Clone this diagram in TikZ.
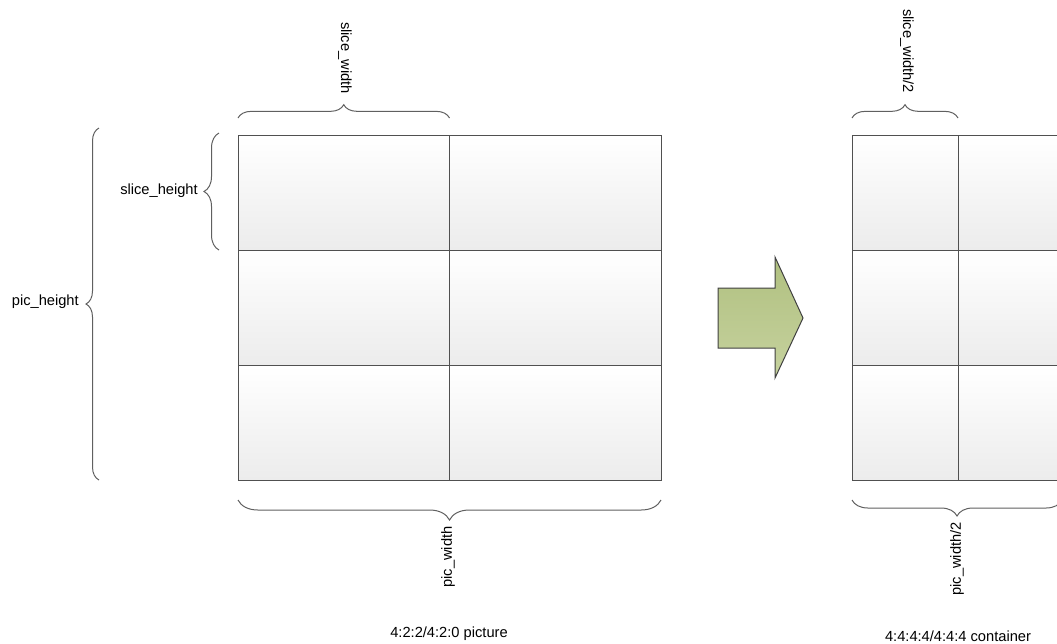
\documentclass[tikz,border=0pt]{standalone}
\usepackage{fontspec}
\setmainfont{Liberation Sans}
\usetikzlibrary{decorations.pathreplacing}
\definecolor{linegray}{HTML}{505050}
\definecolor{bracegray}{HTML}{606060}
\definecolor{cellgray}{HTML}{ECECEC}
\definecolor{arrowtop}{RGB}{176,192,128}
\definecolor{arrowbot}{RGB}{198,210,158}
\definecolor{arrowline}{HTML}{404040}
\begin{document}
\begin{tikzpicture}[x=0.75bp,y=-0.75bp,
  cell/.style={draw=linegray, line width=0.75bp, top color=white, bottom color=cellgray,
    inner sep=0pt, outer sep=0pt, anchor=north west, minimum height=86.25bp},
  lcell/.style={cell, minimum width=158.625bp},
  rcell/.style={cell, minimum width=79.5bp},
  brc/.style={draw=bracegray, line width=0.75bp, decorate, decoration={brace, amplitude=#1}},
  lbl/.style={font=\fontsize{11bp}{13bp}\selectfont, inner sep=0pt}
]
\clip (0,0) rectangle (1057,643);
% left grid
\node[lcell] (L11) at (238,135) {};
\node[lcell] (L12) at (449.5,135) {};
\node[lcell] (L21) at (238,250) {};
\node[lcell] (L22) at (449.5,250) {};
\node[lcell] (L31) at (238,365) {};
\node[lcell] (L32) at (449.5,365) {};
% right grid
\node[rcell] (R11) at (852,135) {};
\node[rcell] (R12) at (958,135) {};
\node[rcell] (R21) at (852,250) {};
\node[rcell] (R22) at (958,250) {};
\node[rcell] (R31) at (852,365) {};
\node[rcell] (R32) at (958,365) {};
% arrow
\shade[top color=arrowtop, bottom color=arrowbot, draw=arrowline, line width=0.75bp]
  (718,288) -- (775,288) -- (775,257) -- (803,318) -- (775,378) -- (775,348) -- (718,348) -- cycle;
% braces
\draw[brc=10bp] ([yshift=12.75bp]L11.north west) -- ([yshift=12.75bp]L11.north east);
\draw[brc=10bp] ([yshift=12.75bp]R11.north west) -- ([yshift=12.75bp]R11.north east);
\draw[brc=11.25bp] ([xshift=-14.25bp]L11.south west) -- ([xshift=-14.25bp,yshift=1.5bp]L11.north west);
\draw[brc=9.75bp] ([xshift=-104.25bp]L31.south west) -- ([xshift=-104.25bp,yshift=5.25bp]L11.north west);
\draw[brc=15bp] ([yshift=-15bp]L32.south east) -- ([yshift=-15bp]L31.south west);
\draw[brc=12bp] ([yshift=-15bp,xshift=-1.5bp]R32.south east) -- ([yshift=-15bp]R31.south west);
% labels
\node[lbl, rotate=-90] (sw) at (345,58) {slice\_width};
\node[lbl, rotate=-90] (sw2) at (907,51) {slice\_width/2};
\node[lbl, anchor=east] (sh) at (198,191) {slice\_height};
\node[lbl, anchor=east] (ph) at (79,302) {pic\_height};
\node[lbl, rotate=90] (pw) at (448,557) {pic\_width};
\node[lbl, rotate=90] (pw2) at (957,559) {pic\_width/2};
\node[lbl] (c1) at (449,634) {4:2:2/4:2:0 picture};
\node[lbl] (c2) at (958,636) {4:4:4:4/4:4:4 container};
\end{tikzpicture}
\end{document}
